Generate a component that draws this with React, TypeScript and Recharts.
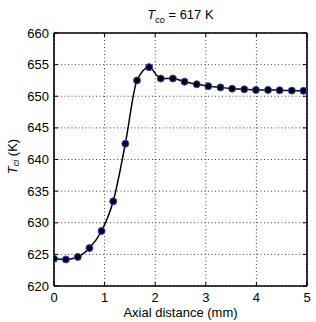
import { LineChart, Line, XAxis, YAxis, CartesianGrid } from 'recharts';

// axial positions (mm) and inner wall temperature (K)
const distance = [
  0, 0.235, 0.47, 0.7, 0.94, 1.17, 1.41, 1.64, 1.88, 2.11, 2.35,
  2.58, 2.82, 3.05, 3.29, 3.52, 3.76, 3.99, 4.23, 4.46, 4.7, 4.93,
];
const tempCi = [
  624.3, 624.2, 624.6, 626.0, 628.7, 633.4, 642.5, 652.5, 654.6, 652.8, 652.8,
  652.3, 651.9, 651.6, 651.4, 651.2, 651.1, 651.0, 651.0, 650.95, 650.9, 650.85,
];
const xTicks = [0, 1, 2, 3, 4, 5];
const yTicks = [620, 625, 630, 635, 640, 645, 650, 655, 660];

const chartData = distance.map((d, i) => ({ x: d, t: tempCi[i] }));

const FONT = 13;

const BottomTick = ({ x, y, payload }: any) => (
  <g>
    <line x1={x} x2={x} y1={y} y2={y - 4} stroke="#000" />
    <text x={x} y={y + 16} textAnchor="middle" fontSize={FONT} fill="#000">
      {payload.value}
    </text>
  </g>
);

const LeftTick = ({ x, y, payload }: any) => (
  <g>
    <line x1={x} x2={x + 4} y1={y} y2={y} stroke="#000" />
    <text x={x - 5} y={y + 4.5} textAnchor="end" fontSize={FONT} fill="#000">
      {payload.value}
    </text>
  </g>
);

const TopTick = ({ x, y }: any) => <line x1={x} x2={x} y1={y} y2={y + 4} stroke="#000" />;
const RightTick = ({ x, y }: any) => <line x1={x} x2={x - 4} y1={y} y2={y} stroke="#000" />;

const Title = ({ viewBox }: any) => {
  const cx = viewBox.x + viewBox.width / 2;
  return (
    <text x={cx} y={19} textAnchor="middle" fontSize={FONT} fill="#000">
      <tspan fontStyle="italic">T</tspan>
      <tspan fontStyle="italic" fontSize={9} dy={4}>co</tspan>
      <tspan dy={-4}> = 617 K</tspan>
    </text>
  );
};

const YLabel = ({ viewBox }: any) => {
  const cx = 12;
  const cy = viewBox.y + viewBox.height / 2 - 3;
  return (
    <text
      x={cx}
      y={cy}
      transform={`rotate(-90, ${cx}, ${cy})`}
      textAnchor="middle"
      dominantBaseline="central"
      fontSize={FONT}
      fill="#000"
    >
      <tspan fontStyle="italic">T</tspan>
      <tspan fontStyle="italic" fontSize={9} dy={4}>ci</tspan>
      <tspan dy={-4}> (K)</tspan>
    </text>
  );
};

const XLabel = ({ viewBox }: any) => (
  <text x={viewBox.x + viewBox.width / 2} y={317} textAnchor="middle" fontSize={FONT} fill="#000">
    Axial distance (mm)
  </text>
);

const axisLine = { stroke: '#000', strokeWidth: 1.6 };

export default function App() {
  return (
    <div style={{ position: 'absolute', left: 0, top: 0, fontFamily: '"Liberation Sans", Arial, sans-serif' }}>
      <LineChart width={316} height={322} data={chartData} margin={{ top: 32, right: 8, bottom: 0, left: 0 }}>
        <CartesianGrid stroke="#444" strokeDasharray="1 2.5" />
        <XAxis
          dataKey="x"
          type="number"
          domain={[0, 5]}
          ticks={xTicks}
          interval={0}
          height={36}
          tickSize={0}
          tickMargin={0}
          tickLine={false}
          axisLine={axisLine}
          tick={BottomTick}
          label={<XLabel />}
          allowDataOverflow
        />
        <XAxis
          xAxisId="top"
          orientation="top"
          dataKey="x"
          type="number"
          domain={[0, 5]}
          ticks={xTicks}
          interval={0}
          height={1}
          tickSize={0}
          tickMargin={0}
          tickLine={false}
          axisLine={axisLine}
          tick={TopTick}
          label={<Title />}
          allowDataOverflow
        />
        <YAxis
          type="number"
          domain={[620, 660]}
          ticks={yTicks}
          interval={0}
          width={54}
          tickSize={0}
          tickMargin={0}
          tickLine={false}
          axisLine={axisLine}
          tick={LeftTick}
          label={<YLabel />}
          allowDataOverflow
        />
        <YAxis
          yAxisId="right"
          orientation="right"
          type="number"
          domain={[620, 660]}
          ticks={yTicks}
          interval={0}
          width={1}
          tickSize={0}
          tickMargin={0}
          tickLine={false}
          axisLine={axisLine}
          tick={RightTick}
          allowDataOverflow
        />
        <Line
          type="monotone"
          dataKey="t"
          stroke="#000"
          strokeWidth={1.5}
          dot={{ r: 3.5, fill: '#000', stroke: '#3344dd', strokeWidth: 1 }}
          isAnimationActive={false}
        />
      </LineChart>
    </div>
  );
}
